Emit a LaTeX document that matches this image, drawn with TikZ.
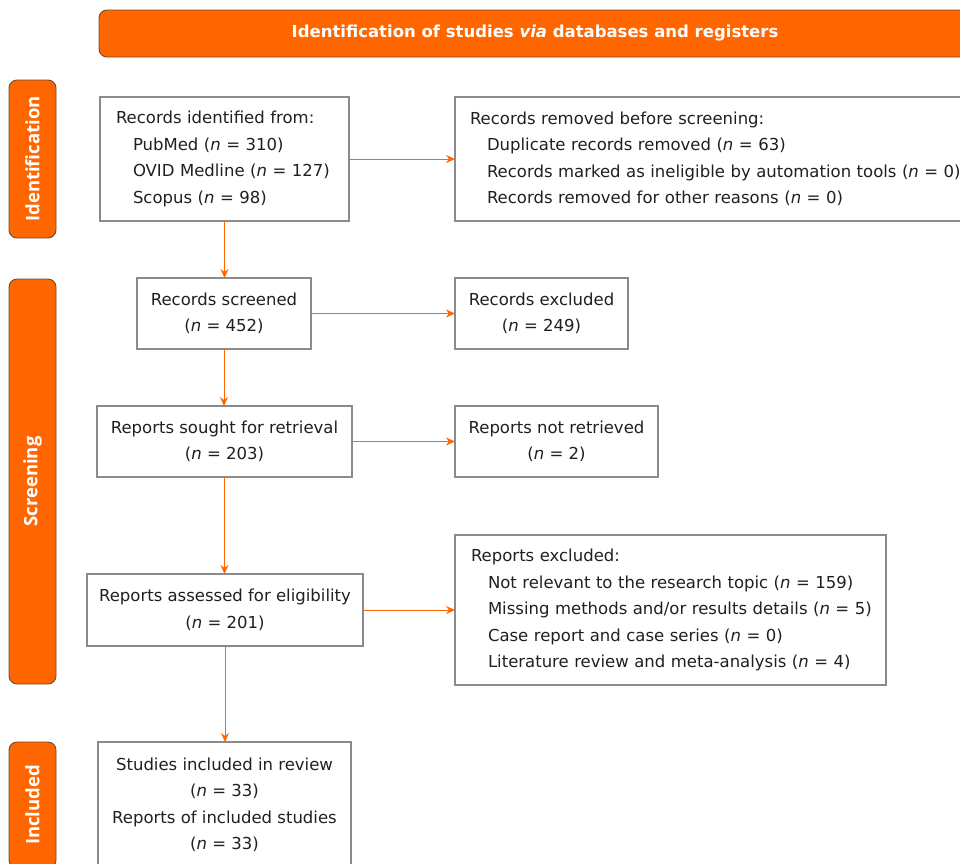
\documentclass[tikz,border=0pt]{standalone}
\usepackage{fontspec}
\setmainfont{DejaVu Sans}
\newfontfamily\sidefont{Open Sans}
\usetikzlibrary{arrows.meta}
\definecolor{orng}{HTML}{FF6600}
\definecolor{boxgray}{HTML}{8C8A8A}
\definecolor{txt}{HTML}{231F20}
\definecolor{edgebrown}{HTML}{6E4A30}
\tikzset{
  every node/.style={inner sep=0pt, outer sep=0pt},
  box/.style={draw=boxgray, line width=1.4pt, fill=white, text=txt,
    font=\fontsize{16.5}{26.5}\selectfont, anchor=north west},
  cbox/.style={box, align=center},
  lbox/.style={box, align=left, inner xsep=16pt},
  sidebar/.style={draw=edgebrown, line width=0.9pt, fill=orng, rounded corners=8pt,
    text=white, font=\sidefont\bfseries\fontsize{18.5}{20}\selectfont, rotate=90,
    minimum height=47pt},
  banner/.style={draw=edgebrown, line width=0.9pt, fill=orng, rounded corners=8pt,
    text=white, font=\bfseries\fontsize{16.5}{20}\selectfont, anchor=north west,
    minimum height=47pt, minimum width=872pt},
  arr/.style={draw=orng, line width=1pt, -{Stealth[length=9pt,width=8pt]}}
}
\newcommand{\nn}{\textit{n}}
\newcommand{\ind}{\hspace*{17pt}}
\newcommand{\lm}{\hspace*{16pt}}
\begin{document}
\begin{tikzpicture}[x=1pt, y=-1pt]
\useasboundingbox (0,0) rectangle (960,863);

\node[banner] (ban) at (99,10) {Identification of studies \textit{via} databases and registers};

\node[sidebar, minimum width=158pt] (sid) at (32.5,159) {Identification};
\node[sidebar, minimum width=405pt] (sscr) at (32.5,481.5) {Screening};
\node[sidebar, minimum width=126pt] (sinc) at (32.5,805) {Included};

\node[lbox, text width=217pt, minimum height=124pt] (ident) at (100,97)
  {Records identified from:\\ \ind PubMed (\nn{} = 310)\\ \ind OVID Medline (\nn{} = 127)\\ \ind Scopus (\nn{} = 98)};
\node[lbox, inner xsep=15pt, text width=540pt, minimum height=124pt] (removed) at (455,97)
  {Records removed before screening:\\ \ind Duplicate records removed (\nn{} = 63)\\ \ind Records marked as ineligible by automation tools (\nn{} = 0)\\ \ind Records removed for other reasons (\nn{} = 0)};

\node[cbox, minimum width=174pt, minimum height=71pt] (screened) at (137,278)
  {Records screened\\(\nn{} = 452)};
\node[cbox, minimum width=173pt, minimum height=71pt] (excl) at (455,278)
  {Records excluded\\(\nn{} = 249)};

\node[cbox, minimum width=255pt, minimum height=71pt] (sought) at (97,406)
  {Reports sought for retrieval\\(\nn{} = 203)};
\node[cbox, minimum width=203pt, minimum height=71pt] (notret) at (455,406)
  {Reports not retrieved\\(\nn{} = 2)};

\node[cbox, minimum width=276pt, minimum height=72pt] (assessed) at (87,574)
  {Reports assessed for eligibility\\(\nn{} = 201)};
\node[box, align=left, inner xsep=0pt, text width=431pt, minimum height=150pt] (repexcl) at (455,535)
  {\lm Reports excluded:\\ \lm\ind Not relevant to the research topic (\nn{} = 159)\\ \lm\ind Missing methods and/or results details (\nn{} = 5)\\ \lm\ind Case report and case series (\nn{} = 0)\\ \lm\ind Literature review and meta-analysis (\nn{} = 4)};

\node[cbox, minimum width=253pt, minimum height=126pt] (incl) at (98,742)
  {Studies included in review\\(\nn{} = 33)\\Reports of included studies\\(\nn{} = 33)};

\draw[arr] (ident.east) -- (ident.east -| removed.west);
\draw[arr] (ident.south) -- (ident.south |- screened.north);
\draw[arr] (screened.east) -- (excl.west);
\draw[arr] (screened.south) -- (screened.south |- sought.north);
\draw[arr] (sought.east) -- (notret.west);
\draw[arr] (sought.south) -- (sought.south |- assessed.north);
\draw[arr] (assessed.east) -- (assessed.east -| repexcl.west);
\draw[arr] (assessed.south) -- (assessed.south |- incl.north);
\end{tikzpicture}
\end{document}
